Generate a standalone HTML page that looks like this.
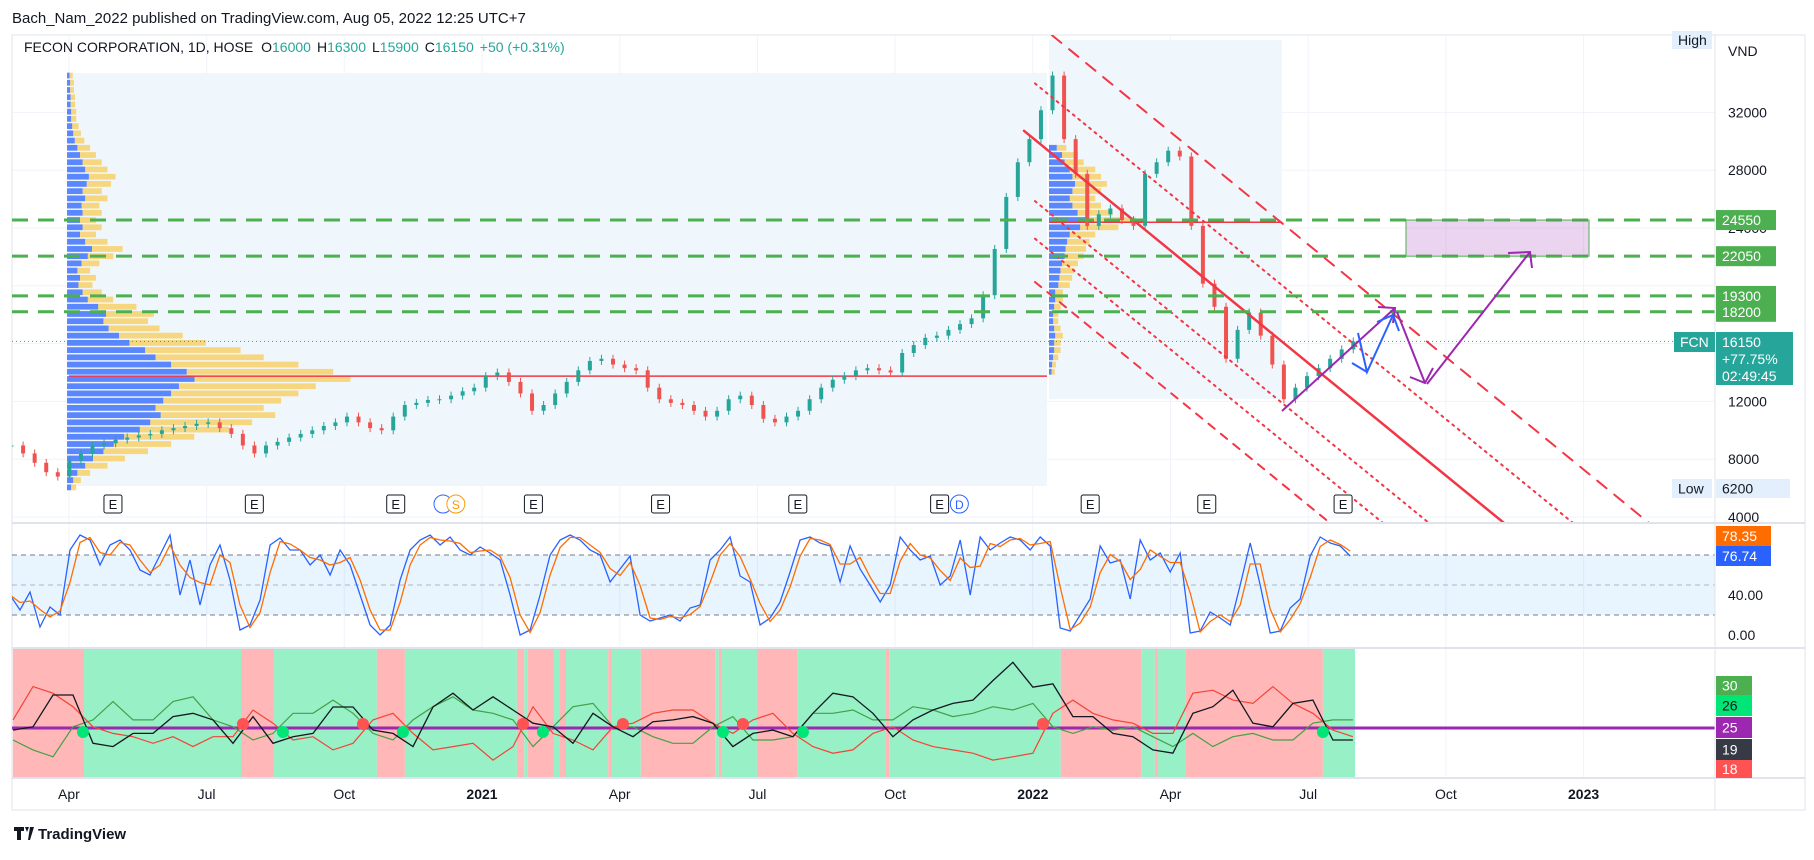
<!DOCTYPE html>
<html><head><meta charset="utf-8">
<style>
html,body{margin:0;padding:0;background:#fff;}
body{width:1814px;height:855px;overflow:hidden;font-family:"Liberation Sans",sans-serif;}
svg text{font-family:"Liberation Sans",sans-serif;}
</style></head>
<body>
<svg id="chart" width="1814" height="855" xmlns="http://www.w3.org/2000/svg">
<defs>
<clipPath id="clipPrice"><rect x="12" y="35" width="1703" height="488"/></clipPath>
<clipPath id="clipStoch"><rect x="12" y="524" width="1703" height="123"/></clipPath>
<clipPath id="clipDmi"><rect x="12" y="649" width="1703" height="128"/></clipPath>
</defs>
<text x="12" y="23" font-size="15" fill="#131722">Bach_Nam_2022 published on TradingView.com, Aug 05, 2022 12:25 UTC+7</text>
<rect x="12" y="35" width="1793" height="775" fill="#fff" stroke="#e0e3eb"/>
<g id="grid"></g>
<g id="pricePane" clip-path="url(#clipPrice)"></g>
<g id="stochPane" clip-path="url(#clipStoch)"></g>
<g id="dmiPane" clip-path="url(#clipDmi)"></g>
<g id="axes"></g>
<text x="24" y="52" font-size="14" fill="#131722">FECON CORPORATION, 1D, HOSE <tspan fill="#131722" dx="4">O</tspan><tspan fill="#26a69a">16000</tspan><tspan fill="#131722" dx="6">H</tspan><tspan fill="#26a69a">16300</tspan><tspan fill="#131722" dx="6">L</tspan><tspan fill="#26a69a">15900</tspan><tspan fill="#131722" dx="6">C</tspan><tspan fill="#26a69a">16150</tspan><tspan fill="#26a69a" dx="6">+50 (+0.31%)</tspan></text>
<g>
<path d="M14 827h10v4h-3v9h-4v-9h-3z M25 827h4l-2 5z M30 827h4l-4 13h-2z" fill="#131722"/>
<text x="38" y="839" font-size="15" font-weight="bold" fill="#131722">TradingView</text>
</g>
</svg>
<script>
const priceStartMonth = -0.25;
const priceStepMonth = 0.252;
const closes = [8950,8400,7750,7100,6800,7900,8400,8950,9100,9350,
9500,9650,9750,10000,10150,10300,10450,10550,10150,9750,
8950,8400,8950,9200,9500,9750,10000,10300,10550,10950,
10550,10150,10000,10950,11750,11900,12100,12150,12400,12700,
12950,13750,14000,13350,12550,11350,11750,12550,13350,14150,
14800,14950,14550,14300,14150,12950,12150,11900,11750,11350,
10950,11350,12150,12400,11750,10800,10550,10950,11350,12150,
12950,13500,13750,14150,14300,14150,14000,15350,15900,16400,
16550,16950,17350,17750,19350,22550,26150,28550,30150,32150,
34550,30150,27750,24150,24950,25350,24550,24150,27750,28550,
29350,28950,24150,20150,18550,14950,16950,18150,16550,14550,
12150,12950,13750,14300,14950,15600,16150];
const vpLeftStart = 6000, vpStep = 500;
const vpLeftTotals = [8,12,20,35,50,70,90,110,140,160,180,170,185,200,215,245,230,200,170,150,120,100,80,70,75,60,40,30,22,25,20,28,40,48,35,25,30,25,30,28,35,30,38,42,35,30,25,20,15,12,10,8,8,7,7,6,6,5];
const vpRightStart = 14000;
const vpRightTotals = [5,6,8,10,10,12,10,8,8,10,12,12,18,20,22,25,30,32,35,40,60,75,55,45,40,45,50,45,40,30,25,15];
const vpUpShare = 0.45;
const supportLevels = [24550,22050,19300,18200];
const priceTicks = [4000,8000,12000,16000,20000,24000,28000,32000];
const priceTickLabels = ['4000','8000','12000','','','24000','28000','32000'];
const earningsMonths = [1.96,5.04,8.12,11.12,13.89,16.88,19.97,23.25,25.79,28.76];
const timeMonths = [1,4,7,10,13,16,19,22,25,28,31,34];
const timeLabels = ['Apr','Jul','Oct','2021','Apr','Jul','Oct','2022','Apr','Jul','Oct','2023'];
const stochStartMonth = -0.283, stochStepMonth = 0.2179;
const stochK = [40,25,43,8,28,20,85,100,95,70,90,95,85,65,60,80,100,40,75,30,
70,90,55,5,10,35,90,97,85,85,70,80,60,85,70,40,10,0,10,55,
85,95,100,90,98,85,80,88,82,75,40,0,5,40,80,95,100,95,85,
80,53,66,79,20,14,17,20,14,27,30,75,85,98,59,53,10,17,33,63,
95,98,92,89,53,89,66,50,33,50,98,85,75,79,50,59,95,40,98,85,
92,98,95,85,98,89,7,4,20,36,89,72,75,36,95,75,82,63,82,2,
4,23,17,10,50,92,50,2,4,27,36,79,98,92,89,79];
const dmiStartMonth = -0.218, dmiStepMonth = 0.4357;
const adx = [24.3,25.4,36,36,19.9,18.8,23.2,23.2,28.8,29.9,27.7,19.9,28.8,19.9,22.1,23.2,32,32,24.3,23.2,18.8,32,36.6,31,35.4,31,26.6,25.4,19.9,29.9,25.4,22.1,27.1,27.7,28.8,
26.6,18.8,23.2,24.3,22.1,29.9,36.6,35.4,29.9,22.1,27.7,31,33.2,34.3,40.8,46.9,38.6,39.7,28.8,28.8,23.2,22.1,17.7,16.6,29.9,32.1,37.6,26.6,25.4,33.2,34.3,21,21];
const minusDI = [27.7,38.8,36.6,32.1,25.4,23.2,22.1,19.9,22.1,18.8,22.1,22.1,31,26.6,21,22.1,17.7,19.9,27.7,29.9,23.2,17.7,18.8,19.9,14.3,18.8,32.1,23.2,21,17.7,25.4,26.6,29.9,31,31,
26.6,23.2,27.7,29.9,23.2,18.8,16.6,17.7,23.2,25.4,21,18.8,17.7,16.6,14.3,15.4,16.6,29.9,34.3,29.9,27.7,26.6,23.2,23.2,36.6,37.6,34.3,33.2,38.8,33.2,29.9,24.3,22.1];
const plusDI = [21,17.7,15.4,25.4,27.7,33.8,27.7,27.7,33.8,35.4,27.7,25.4,21,23.2,29.9,29.9,34.3,29.9,23.2,21,27.7,32.1,35.4,31,29.9,27.7,18.8,25.4,32.1,33.2,25.4,25.4,22.1,19.9,19.9,
25.4,28.8,21,21,22.1,29.9,29.9,31,27.7,27.7,32.1,31,28.8,29.9,32.1,31,33.2,25.4,23.2,25.4,24.3,25.4,22.1,18.8,23.2,18.8,22.1,23.2,21,21,26.6,27.7,27.7];
const adxLevel = 25;
const bandStarts = [-0.22,1.33,4.75,5.47,7.71,8.32,10.76,10.92,11.0,11.57,11.7,11.83,12.75,12.83,13.46,15.08,15.16,15.23,15.99,16.88,18.8,18.87,22.61,24.36,24.66,24.73,25.32,28.32,29.02];
const bandTrend = [0,1,0,1,0,1,0,1,0,1,0,1,0,1,0,1,0,1,0,1,0,1,0,1,0,1,0,1];

function xT(m){return 23+m*45.9;}
function yP(p){return 517-(p-4000)*0.01445;}
function yS(v){return 635-v;}
function yD(v){return 728-(v-25)*3;}
const NS='http://www.w3.org/2000/svg';
function mk(tag,attrs,parent){const e=document.createElementNS(NS,tag);for(const k in attrs)e.setAttribute(k,attrs[k]);parent.appendChild(e);return e;}
const grid=document.getElementById('grid'),P=document.getElementById('pricePane'),S=document.getElementById('stochPane'),D=document.getElementById('dmiPane'),A=document.getElementById('axes');

timeMonths.forEach(m=>{const l=mk('line',{x1:xT(m),x2:xT(m),y1:35,y2:778,stroke:'#f0f3fa'},grid);

});
priceTicks.forEach(p=>{const l=mk('line',{x1:12,x2:1715,y1:yP(p),y2:yP(p),stroke:'#f0f3fa'},grid);

});

let r=mk('rect',{x:69,y:73,width:978,height:413,fill:'#f0f7fc'},P);


r=mk('rect',{x:1049,y:40,width:233,height:359,fill:'#f0f7fc'},P);



function drawProfile(x0,start,totals,name){
 totals.forEach((t,i)=>{const p=start+i*vpStep;const w=t*1.157;const y=yP(p+vpStep/2);const h=7.2*0.8;
  const b=mk('rect',{x:x0,y:y,width:w*vpUpShare,height:h,fill:'#2962ff',opacity:0.75},P);
  
  
  const yb=mk('rect',{x:x0+w*vpUpShare,y:y,width:w*(1-vpUpShare),height:h,fill:'#fbc02d',opacity:0.6},P);
  
  });
}
drawProfile(67,vpLeftStart,vpLeftTotals,'profile-left');
drawProfile(1049,vpRightStart,vpRightTotals,'profile-right');
let pl=mk('line',{x1:69,x2:1047,y1:yP(13750),y2:yP(13750),stroke:'#f23645','stroke-width':1.5},P);


pl=mk('line',{x1:1049,x2:1282,y1:yP(24400),y2:yP(24400),stroke:'#f23645','stroke-width':1.5},P);



let cp=mk('line',{x1:12,x2:1715,y1:yP(closes[closes.length-1]),y2:yP(closes[closes.length-1]),stroke:'#26a69a','stroke-dasharray':'1 3'},P);



closes.forEach((c,i)=>{const o=i>0?closes[i-1]:c;const x=xT(priceStartMonth+i*priceStepMonth);const up=c>=o;const col=up?'#26a69a':'#ef5350';
 const top=yP(Math.max(o,c)),bot=yP(Math.min(o,c));
 const w=mk('line',{x1:x,x2:x,y1:top-4,y2:bot+4,stroke:col},P);
 
 
 const b=mk('rect',{x:x-2,y:top,width:4,height:Math.max(1,bot-top),fill:col},P);
 
 });

const slope=0.817;
const forkOffsets=[-174,-121,-75,0,69,145];
const forkStyles=['8 8','2 5','2 5','','2 5','12 10'];
forkOffsets.forEach((off,i)=>{const xb=1504+off;const xs=(i===3)?1024:1035;const ys=523-(xb-xs)*slope;
 const l=mk('line',{x1:xs,y1:ys,x2:xb,y2:523,stroke:'#f23645','stroke-width':i===3?2.5:2,'stroke-dasharray':forkStyles[i],'stroke-linecap':'round'},P);
 
 });

supportLevels.forEach(p=>{const l=mk('line',{x1:12,x2:1715,y1:yP(p),y2:yP(p),stroke:'#4caf50','stroke-width':3,'stroke-dasharray':'16 10'},P);
 
 });

let tb=mk('rect',{x:1406,y:yP(24550),width:183,height:yP(22050)-yP(24550),fill:'rgba(156,39,176,0.2)',stroke:'#4caf50'},P);



function poly(pts,col,name){const e=mk('polyline',{points:pts,fill:'none',stroke:col,'stroke-width':2},P);
 }
poly('1282,411 1395,308','#9c27b0','projection-line-up');
poly('1378,307 1395,308 1393,323','#9c27b0','arrowhead-up');
poly('1397,312 1425,383','#9c27b0','projection-line-down');
poly('1410,377 1425,383 1433,368','#9c27b0','arrowhead-down');
poly('1427,384 1530,252','#9c27b0','projection-line-target');
poly('1508,253 1530,252 1532,268','#9c27b0','arrowhead-target');
poly('1358,333 1367,372 1393,315','#2962ff','blue-path');
poly('1352,363 1367,372','#2962ff','blue-arrow-tail');
poly('1377,322 1393,315 1399,331','#2962ff','blue-arrowhead');

earningsMonths.forEach(m=>{const x=xT(m);const g=mk('g',{},P);
 
 
 mk('rect',{x:x-9,y:495,width:18,height:18,rx:2,fill:'#fff',stroke:'#131722'},g);
 const t=mk('text',{x:x,y:509,'text-anchor':'middle','font-size':13,fill:'#131722'},g);t.textContent='E';});
let sm=mk('g',{},P);


mk('circle',{cx:xT(9.15),cy:504,r:9,fill:'#fff',stroke:'#2962ff'},sm);
mk('circle',{cx:xT(9.43),cy:504,r:9,fill:'#fff',stroke:'#ff9800'},sm);
let st=mk('text',{x:xT(9.43),y:509,'text-anchor':'middle','font-size':12,fill:'#ff9800'},sm);st.textContent='S';
let dm=mk('g',{},P);


mk('circle',{cx:xT(20.4),cy:504,r:9,fill:'#fff',stroke:'#2962ff'},dm);
let dt=mk('text',{x:xT(20.4),y:509,'text-anchor':'middle','font-size':12,fill:'#2962ff'},dm);dt.textContent='D';

let band=mk('rect',{x:12,y:yS(80),width:1703,height:yS(20)-yS(80),fill:'rgba(33,150,243,0.1)'},S);


[80,50,20].forEach(v=>{const l=mk('line',{x1:12,x2:1715,y1:yS(v),y2:yS(v),stroke:'#787b86','stroke-dasharray':'5 4',opacity:v===50?0.5:1},S);
 
 });
const stochD=stochK.map((v,i)=>{const a=stochK.slice(Math.max(0,i-1),i+1);return a.reduce((s,x)=>s+x,0)/a.length;});
function linePath(arr,start,step,yf){return arr.map((v,i)=>(i?'L':'M')+xT(start+i*step).toFixed(1)+','+yf(v).toFixed(1)).join(' ');}
let kp=mk('path',{d:linePath(stochK,stochStartMonth,stochStepMonth,yS),fill:'none',stroke:'#2962ff','stroke-width':1.3},S);


let dp=mk('path',{d:linePath(stochD,stochStartMonth,stochStepMonth,yS),fill:'none',stroke:'#ff6d00','stroke-width':1.3},S);



bandTrend.forEach((t,i)=>{const x1=xT(bandStarts[i]),x2=xT(bandStarts[i+1]);
 const b=mk('rect',{x:x1,y:649,width:x2-x1,height:128,fill:t?'#98f0c6':'#ffb7b7'},D);
 
 });
let al=mk('line',{x1:12,x2:1715,y1:yD(adxLevel),y2:yD(adxLevel),stroke:'#9c27b0','stroke-width':3},D);


let gp=mk('path',{d:linePath(plusDI,dmiStartMonth,dmiStepMonth,yD),fill:'none',stroke:'#43a047','stroke-width':1.2},D);


let rp=mk('path',{d:linePath(minusDI,dmiStartMonth,dmiStepMonth,yD),fill:'none',stroke:'#f44336','stroke-width':1.2},D);


let bp=mk('path',{d:linePath(adx,dmiStartMonth,dmiStepMonth,yD),fill:'none',stroke:'#131722','stroke-width':1.3},D);


for(let i=1;i<plusDI.length;i++){const a=plusDI[i-1]-minusDI[i-1],b=plusDI[i]-minusDI[i];
 if((a<0)!==(b<0)){const c=mk('circle',{cx:xT(dmiStartMonth+(i-0.5)*dmiStepMonth),cy:yD(adxLevel)+(b>0?4:-4),r:6,fill:b>0?'#00e676':'#ff5252'},D);
  
  }}

[523,648,778].forEach(y=>{const l=mk('line',{x1:12,x2:1805,y1:y,y2:y,stroke:'#e0e3eb','stroke-width':2},A);
 
 });
let va=mk('line',{x1:1715,x2:1715,y1:35,y2:810,stroke:'#e0e3eb'},A);


priceTicks.forEach((p,i)=>{if(!priceTickLabels[i])return;const t=mk('text',{x:1728,y:yP(p)+5,'font-size':14,fill:'#131722'},A);
 
 
 t.textContent=priceTickLabels[i];});
let vnd=mk('text',{x:1728,y:56,'font-size':14,fill:'#131722'},A);vnd.textContent='VND';


timeMonths.forEach((m,i)=>{const bold=/^20/.test(timeLabels[i]);const t=mk('text',{x:xT(m),y:799,'text-anchor':'middle','font-size':14,'font-weight':bold?'bold':'normal',fill:'#131722'},A);
 
 
 t.textContent=timeLabels[i];});
function tag(x,y,w,h,bg,fg,txt,name,ty){const g=mk('g',{},A);
 
 
 mk('rect',{x:x,y:y,width:w,height:h,fill:bg},g);
 const t=mk('text',{x:x+6,y:ty||(y+h/2+5),'font-size':14,fill:fg},g);t.textContent=txt;return g;}
supportLevels.forEach(p=>{tag(1716,yP(p)-10,60,20,'#4caf50','#fff',String(p),'support-price-tag');});
tag(1672,31,40,18,'#e3effd','#131722','High','high-label');
tag(1672,479,40,19,'#e3effd','#131722','Low','low-label');
tag(1716,479,74,19,'#e3effd','#131722','6200','low-price-tag');
tag(1674,332,41,20,'#26a69a','#fff','FCN','symbol-tag');
let ptag=tag(1716,332,77,53,'#26a69a','#fff','16150','last-price-tag',347);
let t2=mk('text',{x:1722,y:364,'font-size':14,fill:'#fff'},ptag);t2.textContent='+77.75%';
let t3=mk('text',{x:1722,y:381,'font-size':14,fill:'#fff'},ptag);t3.textContent='02:49:45';
tag(1716,526,55,20,'#ff6d00','#fff','78.35','stoch-d-value-tag');
tag(1716,546,55,20,'#2962ff','#fff','76.74','stoch-k-value-tag');
let s40=mk('text',{x:1728,y:600,'font-size':14,fill:'#131722'},A);s40.textContent='40.00';


let s0=mk('text',{x:1728,y:640,'font-size':14,fill:'#131722'},A);s0.textContent='0.00';


tag(1716,676,36,19,'#4caf50','#fff','30','dmi-plus-tag');
tag(1716,695,36,21,'#00e676','#131722','26','dmi-tag-26');
tag(1716,717,36,21,'#9c27b0','#fff','25','dmi-level-tag');
tag(1716,739,36,21,'#363a45','#fff','19','adx-tag');
tag(1716,760,36,18,'#ff5252','#fff','18','dmi-minus-tag');
</script>
</body></html>
